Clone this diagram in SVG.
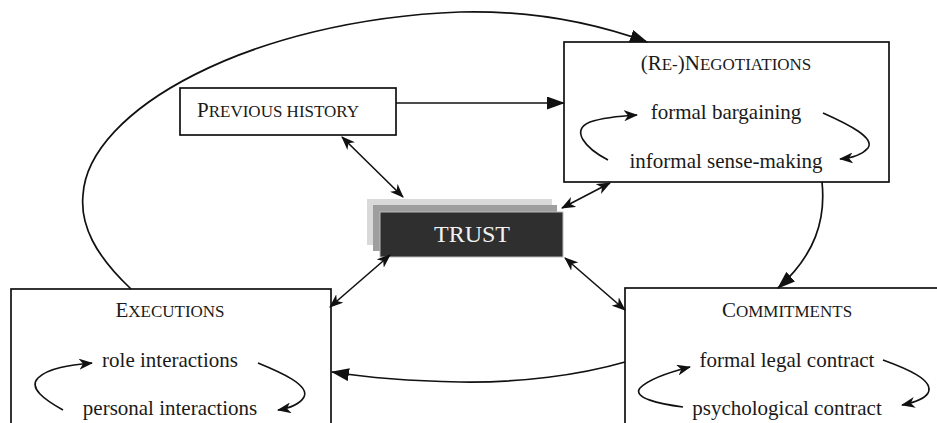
<svg xmlns="http://www.w3.org/2000/svg" width="937" height="423" viewBox="0 0 937 423">
<style>
.box{fill:#fff;stroke:#111;stroke-width:1.7}
.t{font-family:"Liberation Serif","Times New Roman",serif;font-size:21px;fill:#1a1a1a}
.sc{font-size:17px}
.c{text-anchor:middle}
.big{fill:none;stroke:#111;stroke-width:1.7}
.thin{fill:none;stroke:#111;stroke-width:1.6}
</style>
<defs>
<marker id="fill" viewBox="0 0 18 13" refX="17" refY="6.5" markerWidth="18" markerHeight="13" markerUnits="userSpaceOnUse" orient="auto">
<path d="M0,0 L18,6.5 L0,13 z" fill="#111"/>
</marker>
<marker id="barb" viewBox="0 0 14 11" refX="13" refY="5.5" markerWidth="14" markerHeight="11" markerUnits="userSpaceOnUse" orient="auto-start-reverse">
<path d="M0,0 L14,5.5 L0,11 L4,5.5 z" fill="#111"/>
</marker>
</defs>
<g id="trust">
<rect x="367" y="199" width="185" height="46" fill="#d9d9d9"/>
<rect x="373" y="205" width="184" height="46" fill="#9e9e9e"/>
<rect x="380" y="212" width="183" height="45" fill="#2f2f2f" stroke="#bbb" stroke-width="1"/>
<text class="t c" x="472" y="242" style="font-size:24px;fill:#f2f2f2">TRUST</text>
</g>
<g id="previous-history">
<rect class="box" x="180" y="88" width="216" height="47"/>
<text class="t" x="197" y="117">P<tspan class="sc">REVIOUS HISTORY</tspan></text>
</g>
<g id="negotiations">
<rect class="box" x="564" y="42" width="325" height="140"/>
<text class="t c" x="726" y="70">(R<tspan class="sc">E-</tspan>)N<tspan class="sc">EGOTIATIONS</tspan></text>
<text class="t c" x="726" y="119">formal bargaining</text>
<text class="t c" x="726" y="168">informal sense-making</text>
<path class="thin" d="M608,160 C585,148 570,130 590,122 C605,117 620,116 637,115" marker-end="url(#barb)"/>
<path class="thin" d="M823,113 C850,125 875,138 868,148 C862,155 852,158 840,159" marker-end="url(#barb)"/>
</g>
<g id="executions">
<rect class="box" x="11" y="289" width="320" height="150"/>
<text class="t c" x="170" y="317">E<tspan class="sc">XECUTIONS</tspan></text>
<text class="t c" x="170" y="367">role interactions</text>
<text class="t c" x="170" y="415">personal interactions</text>
<path class="thin" d="M63,410 C45,400 28,388 38,378 C48,368 70,365 92,363" marker-end="url(#barb)"/>
<path class="thin" d="M258,363 C280,372 310,385 304,397 C300,404 290,408 278,410" marker-end="url(#barb)"/>
</g>
<g id="commitments">
<rect class="box" x="625" y="288" width="330" height="150"/>
<text class="t c" x="787" y="317">C<tspan class="sc">OMMITMENTS</tspan></text>
<text class="t c" x="787" y="367">formal legal contract</text>
<text class="t c" x="787" y="415">psychological contract</text>
<path class="thin" d="M683,407 C660,404 632,398 640,388 C650,378 670,372 690,367" marker-end="url(#barb)"/>
<path class="thin" d="M883,360 C905,368 935,380 928,393 C924,400 912,403 902,405" marker-end="url(#barb)"/>
</g>
<g id="connectors">
<path class="big" d="M131,289 C95,255 80,225 83,195 C88,110 250,20 460,12 C540,10 600,25 647,42" marker-end="url(#fill)"/>
<path class="big" d="M396,103 L564,103" marker-end="url(#fill)"/>
<path class="big" d="M822,182 C826,220 815,255 778,288" marker-end="url(#fill)"/>
<path class="big" d="M625,362 C580,375 520,383 460,382 C410,381 370,378 332,372" marker-end="url(#fill)"/>
<path class="thin" d="M342,137 L403,197" marker-start="url(#barb)" marker-end="url(#barb)"/>
<path class="thin" d="M610,183 L562,208" marker-start="url(#barb)" marker-end="url(#barb)"/>
<path class="thin" d="M390,255 L330,307" marker-start="url(#barb)" marker-end="url(#barb)"/>
<path class="thin" d="M565,258 L625,310" marker-start="url(#barb)" marker-end="url(#barb)"/>
</g>
</svg>
